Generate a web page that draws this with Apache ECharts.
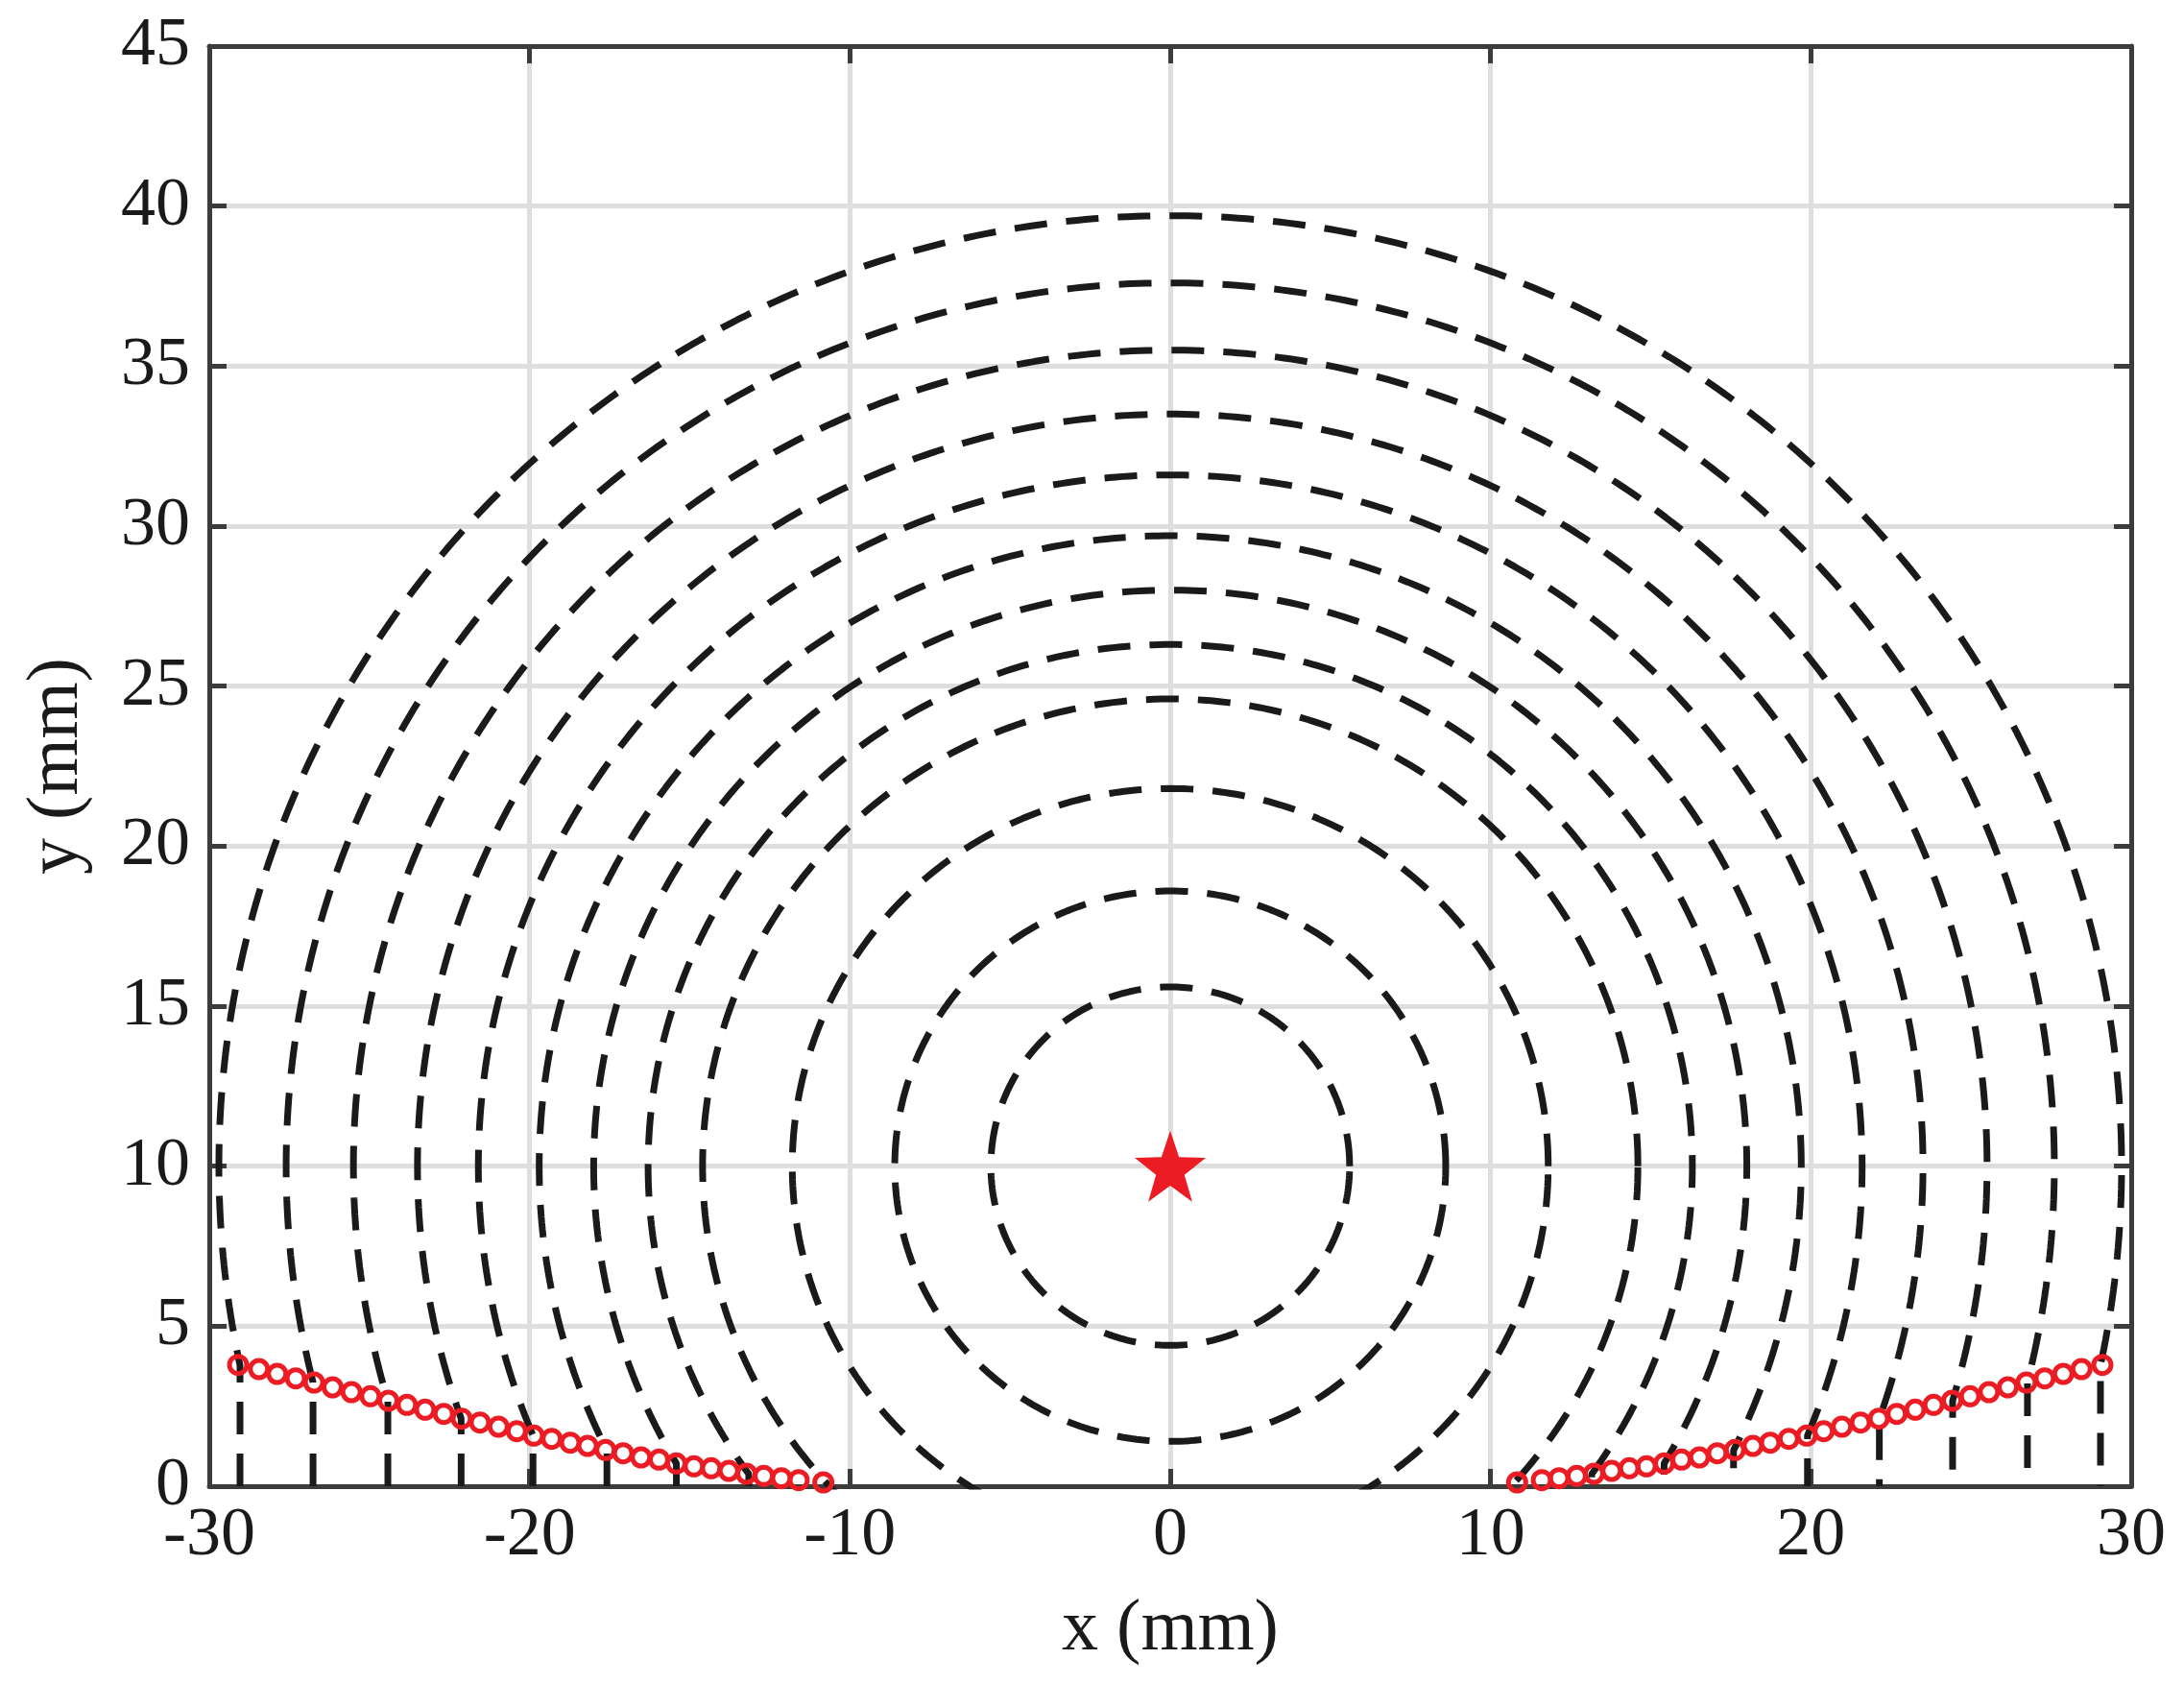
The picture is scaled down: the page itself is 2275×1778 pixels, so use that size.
<!DOCTYPE html>
<html><head><meta charset="utf-8">
<script src="https://cdn.jsdelivr.net/npm/echarts@6/dist/echarts.min.js"></script>
<style>html,body{margin:0;padding:0;background:#fff}#c{width:2275px;height:1778px}</style>
</head><body><div id="c"></div>
<script>
const xTicks = [-30,-20,-10,0,10,20,30];
const yTicks = [0,5,10,15,20,25,30,35,40,45];
const center = [0, 10];
const radii = [5.6, 8.6, 11.8, 14.6, 16.3, 18.0, 19.7, 21.6, 23.5, 25.5, 27.6, 29.7];
const leftX = [-29.10,-28.45,-27.88,-27.30,-26.73,-26.15,-25.56,-24.97,-24.41,-23.83,-23.26,-22.68,-22.12,-21.55,-20.97,-20.40,-19.87,-19.31,-18.73,-18.19,-17.63,-17.08,-16.52,-15.96,-15.42,-14.87,-14.33,-13.78,-13.23,-12.69,-12.14,-11.60,-10.83];
const leftY = [3.79,3.66,3.51,3.37,3.24,3.09,2.94,2.81,2.67,2.54,2.39,2.26,2.11,1.99,1.86,1.72,1.58,1.48,1.36,1.26,1.13,1.03,0.90,0.83,0.71,0.62,0.56,0.48,0.39,0.32,0.25,0.19,0.12];
const rightX = leftX.map(v => -v);
const rightY = leftY.slice();

const font = 'Liberation Serif';
function meet(r) {
  for (let i = 0; i < leftX.length - 1; i++) {
    const f = (x, y) => Math.hypot(x - center[0], y - center[1]) - r;
    const a = f(leftX[i], leftY[i]), b = f(leftX[i+1], leftY[i+1]);
    if (a >= 0 && b <= 0 || a <= 0 && b >= 0) {
      const t = a / (a - b);
      return [leftX[i] + t * (leftX[i+1] - leftX[i]), leftY[i] + t * (leftY[i+1] - leftY[i])];
    }
  }
  return null;
}
const series = [];
radii.forEach(r => {
  const pts = [];
  const m = meet(r);
  if (m) {
    let aL = Math.atan2(m[1] - center[1], m[0] - center[0]);
    if (aL < 0) aL += 2 * Math.PI;
    const aEnd = Math.PI - aL + 2 * Math.PI - 2 * Math.PI;
    pts.push([m[0], 0]);
    const n = 400;
    for (let i = 0; i <= n; i++) {
      const a = aL - (aL - aEnd) * i / n;
      pts.push([center[0] + r * Math.cos(a), center[1] + r * Math.sin(a)]);
    }
    pts.push([-m[0], 0]);
  } else {
    for (let i = 0; i <= 360; i++) {
      const a = i * Math.PI / 180;
      pts.push([center[0] + r * Math.cos(a), center[1] + r * Math.sin(a)]);
    }
  }
  series.push({type:'line', data:pts, showSymbol:false, symbol:'none', silent:true, clip:true,
    lineStyle:{color:'#1a1a1a', width:7, type:[34,20], opacity:1}});
});
const scat = (xs, ys) => ({type:'scatter', data: xs.map((x,i)=>[x,ys[i]]), symbol:'circle', symbolSize:18, clip:false,
  itemStyle:{color:'rgba(255,255,255,0)', borderColor:'#ec1c24', borderWidth:5, opacity:1}, z:5});
series.push(scat(leftX, leftY));
series.push(scat(rightX, rightY));
series.push({type:'scatter', data:[center], symbol:'path://M0,-10 L2.35,-3.24 L9.51,-3.09 L3.8,1.24 L5.88,8.09 L0,4 L-5.88,8.09 L-3.8,1.24 L-9.51,-3.09 L-2.35,-3.24 Z',
  symbolSize:74, itemStyle:{color:'#ec1c24', opacity:1}, z:6});

const axCommon = (min,max,interval) => ({min, max, interval,
  axisLine:{show:true, onZero:false, lineStyle:{color:'#3c3c3c', width:5}},
  axisTick:{show:true, inside:true, length:18, lineStyle:{color:'#3c3c3c', width:5}},
  splitLine:{show:true, lineStyle:{color:'#dedede', width:5}}});

const opt = {
  backgroundColor:'#fff', animation:false,
  grid:{left:218, right:55, top:48, bottom:230, containLabel:false},
  xAxis:[
    Object.assign(axCommon(-30,30,10), {type:'value', position:'bottom',
      axisLabel:{fontFamily:font, fontSize:72, color:'#1a1a1a', margin:16, formatter:v=>String(v)},
      name:'x (mm)', nameLocation:'middle', nameGap:112, nameTextStyle:{fontFamily:font, fontSize:76, color:'#1a1a1a'}}),
    Object.assign(axCommon(-30,30,10), {type:'value', position:'top', axisLabel:{show:false}, splitLine:{show:false}})
  ],
  yAxis:[
    Object.assign(axCommon(0,45,5), {type:'value', position:'left',
      axisLabel:{fontFamily:font, fontSize:72, color:'#1a1a1a', margin:20},
      name:'y (mm)', nameLocation:'middle', nameGap:120, nameTextStyle:{fontFamily:font, fontSize:76, color:'#1a1a1a'}}),
    Object.assign(axCommon(0,45,5), {type:'value', position:'right', axisLabel:{show:false}, splitLine:{show:false}})
  ],
  series
};
echarts.init(document.getElementById('c')).setOption(opt);
</script></body></html>
